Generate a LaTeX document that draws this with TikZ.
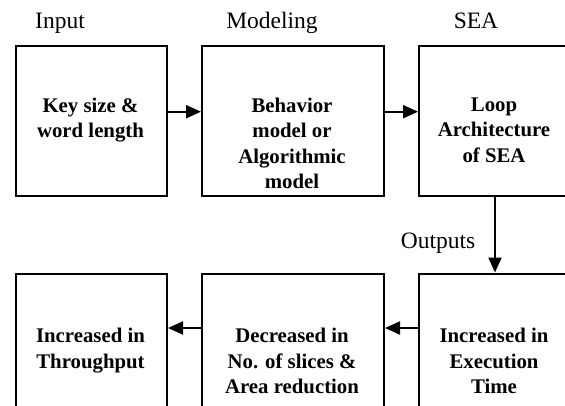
\documentclass[tikz,border=0pt]{standalone}
\usepackage{fontspec}
\setmainfont{Liberation Serif}
\usetikzlibrary{arrows.meta}
\begin{document}
\begin{tikzpicture}[x=1pt,y=-1pt,
  box/.style={draw,line width=2pt,inner sep=0pt,anchor=north west},
  boxtext/.style={anchor=north,align=center,inner sep=0pt,font=\bfseries\fontsize{20.8}{25.5}\selectfont},
  lbl/.style={anchor=base,inner sep=0pt,font=\fontsize{23.5}{28}\selectfont},
  arr/.style={line width=2pt,-{Triangle[length=15pt,width=13pt]}}]
\useasboundingbox (0,0) rectangle (565,405);
\clip (0,0) rectangle (565,405);
% top row
\node[box,minimum width=151pt,minimum height=150pt] (b1) at (15,45) {};
\node[box,minimum width=182pt,minimum height=150pt] (b2) at (201,45) {};
\node[box,minimum width=152pt,minimum height=150pt] (b3) at (418,45) {};
% bottom row
\node[box,minimum width=151pt,minimum height=150pt] (b4) at (15,272.5) {};
\node[box,minimum width=182pt,minimum height=150pt] (b5) at (201,272.5) {};
\node[box,minimum width=152pt,minimum height=150pt] (b6) at (418,272.5) {};
% texts
\node[boxtext] (t1) at (90.5,97.5) {Key size \&\\word length};
\node[boxtext] (t2) at (292,97.5) {Behavior\\model or\\Algorithmic\\model};
\node[boxtext] (t3) at (494,97.5) {Loop\\Architecture\\of SEA};
\node[boxtext] (t4) at (90.5,328) {Increased in\\Throughput};
\node[boxtext] (t5) at (292,328) {Decreased in\\No. of slices \&\\Area reduction};
\node[boxtext] (t6) at (494,328) {Increased in\\Execution\\Time};
% labels
\node[lbl] (l1) at (60,28) {Input};
\node[lbl] (l2) at (272,28) {Modeling};
\node[lbl] (l3) at (476,28) {SEA};
\node[lbl] (l4) at (438,248) {Outputs};
% arrows
\draw[arr] ([yshift=9.3pt]b1.east) -- ([yshift=9.3pt]b2.west);
\draw[arr] ([yshift=9.3pt]b2.east) -- ([yshift=9.3pt]b3.west);
\draw[arr] (b3.south) -- (b6.north);
\draw[arr] ([yshift=20.5pt]b6.west) -- ([yshift=20.5pt]b5.east);
\draw[arr] ([yshift=20.5pt]b5.west) -- ([yshift=20.5pt]b4.east);
\end{tikzpicture}
\end{document}
